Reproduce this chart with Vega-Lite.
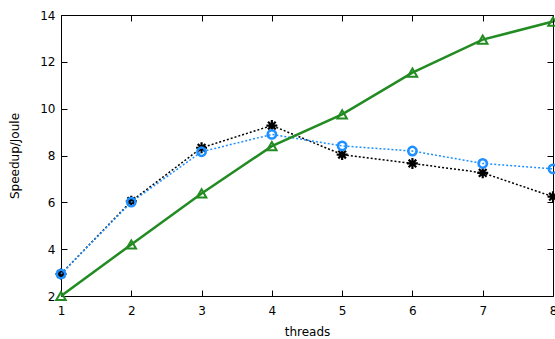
{
  "$schema": "https://vega.github.io/schema/vega-lite/v6.json",
  "width": 492,
  "height": 281,
  "autosize": {"type": "none"},
  "padding": {"left": 61, "top": 15, "right": 2, "bottom": 43},
  "background": "white",
  "config": {
    "view": {"stroke": "black", "strokeWidth": 1},
    "font": "DejaVu Sans",
    "axis": {"grid": false, "domain": false, "labelFlush": false, "labelFont": "DejaVu Sans", "titleFont": "DejaVu Sans", "labelFontSize": 12, "titleFontSize": 12, "titleFontWeight": "normal", "labelColor": "black", "titleColor": "black", "tickColor": "black", "tickSize": -6}
  },
  "data": {"values": [
    {"threads": 1, "series": "green", "v": 2.0},
    {"threads": 2, "series": "green", "v": 4.2},
    {"threads": 3, "series": "green", "v": 6.38},
    {"threads": 4, "series": "green", "v": 8.4},
    {"threads": 5, "series": "green", "v": 9.76},
    {"threads": 6, "series": "green", "v": 11.54},
    {"threads": 7, "series": "green", "v": 12.95},
    {"threads": 8, "series": "green", "v": 13.72},
    {"threads": 1, "series": "blue", "v": 2.94},
    {"threads": 2, "series": "blue", "v": 6.01},
    {"threads": 3, "series": "blue", "v": 8.16},
    {"threads": 4, "series": "blue", "v": 8.9},
    {"threads": 5, "series": "blue", "v": 8.41},
    {"threads": 6, "series": "blue", "v": 8.19},
    {"threads": 7, "series": "blue", "v": 7.66},
    {"threads": 8, "series": "blue", "v": 7.43},
    {"threads": 1, "series": "black", "v": 2.94},
    {"threads": 2, "series": "black", "v": 6.05},
    {"threads": 3, "series": "black", "v": 8.33},
    {"threads": 4, "series": "black", "v": 9.28},
    {"threads": 5, "series": "black", "v": 8.04},
    {"threads": 6, "series": "black", "v": 7.66},
    {"threads": 7, "series": "black", "v": 7.26},
    {"threads": 8, "series": "black", "v": 6.24}
  ]},
  "resolve": {"axis": {"x": "independent", "y": "independent"}},
  "layer": [
    {
      "encoding": {
        "x": {"field": "threads", "type": "quantitative", "scale": {"domain": [1, 8], "nice": false}, "axis": {"orient": "bottom", "values": [1,2,3,4,5,6,7,8], "title": "threads", "format": "d", "labelPadding": 15, "titlePadding": 10}},
        "y": {"field": "v", "type": "quantitative", "scale": {"domain": [2, 14], "nice": false}, "axis": {"orient": "left", "values": [2,4,6,8,10,12,14], "title": "Speedup/Joule", "labelPadding": 12, "titlePadding": 18}}
      },
      "layer": [
        {
          "mark": {"type": "line", "color": "black", "strokeWidth": 1.5, "strokeDash": [2, 2]},
          "transform": [{"filter": "datum.series === 'black'"}]
        },
        {
          "mark": {"type": "point", "shape": "M-1,0L1,0M0,-1L0,1M-0.7,-0.7L0.7,0.7M-0.7,0.7L0.7,-0.7", "filled": false, "color": "black", "strokeWidth": 2.2, "size": 120, "opacity": 1},
          "transform": [{"filter": "datum.series === 'black'"}]
        },
        {
          "mark": {"type": "line", "color": "#1E90FF", "strokeWidth": 1.5, "strokeDash": [2, 2]},
          "transform": [{"filter": "datum.series === 'blue'"}]
        },
        {
          "mark": {"type": "point", "shape": "circle", "filled": false, "color": "#1E90FF", "strokeWidth": 2.5, "size": 70, "opacity": 1},
          "transform": [{"filter": "datum.series === 'blue'"}]
        },
        {
          "mark": {"type": "line", "color": "#228B22", "strokeWidth": 2.5},
          "transform": [{"filter": "datum.series === 'green'"}]
        },
        {
          "mark": {"type": "point", "shape": "triangle-up", "filled": false, "color": "#228B22", "strokeWidth": 2, "size": 90, "opacity": 1},
          "transform": [{"filter": "datum.series === 'green'"}]
        }
      ]
    },
    {
      "mark": {"type": "point", "opacity": 0},
      "encoding": {
        "x": {"field": "threads", "type": "quantitative", "axis": {"orient": "top", "values": [1,2,3,4,5,6,7,8], "labels": false, "title": null}},
        "y": {"field": "v", "type": "quantitative", "axis": {"orient": "right", "values": [2,4,6,8,10,12,14], "labels": false, "title": null}}
      }
    }
  ]
}
